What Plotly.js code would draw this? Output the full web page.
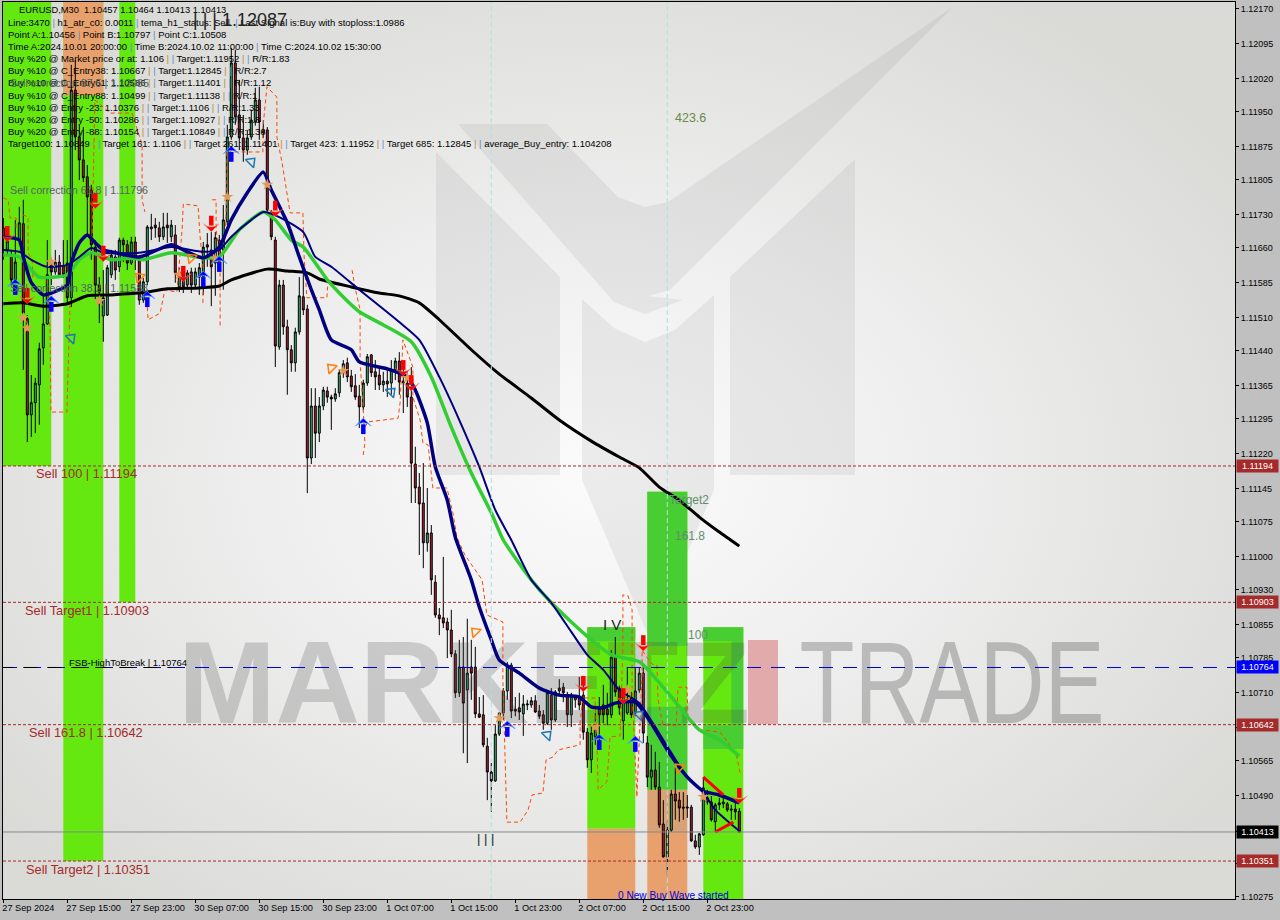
<!DOCTYPE html>
<html><head><meta charset="utf-8">
<script src="https://cdn.plot.ly/plotly-3.0.1.min.js"></script>
<style>
html,body{margin:0;padding:0;background:#c0c0c0;width:1280px;height:920px;overflow:hidden}
#bg{position:absolute;left:3px;top:2px;width:1232px;height:897px;background:radial-gradient(ellipse 760px 560px at 600px 470px,#fbfbfb 0%,#eeeeee 45%,#dadad7 100%)}
#chart{position:absolute;left:0;top:0;width:1280px;height:920px}
</style></head><body>
<div id="bg"></div><div id="chart"></div>
<script>
// all prices below are fifth-decimal points above 1.00000 (11702 = 1.11702)
const opens=[11702,11655,11640,11591,11676,11711,11508,11303,11329,11367,
11446,11497,11623,11608,11629,11621,11627,11553,11996,11896,
11847,11811,11783,11661,11580,11514,11516,11602,11640,11619,
11676,11666,11627,11672,11638,11548,11587,11700,11708,11702,
11683,11708,11683,11687,11576,11608,11580,11608,11580,11597,
11597,11666,11655,11627,11676,11655,11715,11896,12054,11943,
11894,11868,11896,11928,11975,11905,11911,11734,11676,11448,
11580,11491,11442,11414,11480,11555,11529,11211,11322,11264,
11322,11354,11341,11337,11350,11393,11414,11386,11365,11343,
11320,11371,11431,11395,11388,11367,11375,11371,11399,11418,
11371,11371,11341,11198,11149,11115,11030,11051,10946,10876,
10870,10861,10844,10793,10710,10765,10716,10765,10765,10665,
10663,10596,10541,10522,10622,10667,10714,10769,10675,10678,
10665,10684,10684,10693,10671,10663,10645,10705,10652,10714,
10722,10705,10663,10695,10701,10705,10626,10567,10616,10675,
10684,10675,10663,10788,10720,10650,10667,10701,10667,10716,
10752,10603,10530,10545,10509,10430,10360,10417,10494,10481,
10466,10464,10466,10394,10381,10407,10486,10477,10435,10471,
10473,10473,10462,10462,10457];
const highs=[11723,11693,11655,11719,11747,11762,11516,11388,11382,11457,
11559,11676,11629,11655,11644,11676,11676,12050,12060,11922,
11917,11836,11794,11676,11597,11612,11623,11655,11655,11681,
11681,11676,11683,11683,11644,11595,11708,11732,11723,11715,
11734,11734,11719,11708,11617,11617,11612,11617,11617,11627,
11672,11691,11693,11693,11687,11751,11922,12086,12082,12018,
11943,11911,11954,12001,12003,11932,11917,11740,11683,11591,
11591,11506,11452,11489,11597,11608,11538,11360,11360,11341,
11363,11363,11346,11360,11399,11420,11425,11399,11390,11367,
11378,11433,11433,11420,11405,11395,11399,11420,11425,11437,
11410,11395,11405,11235,11179,11200,11147,11068,10961,10891,
11000,10870,10887,10801,10823,10829,10868,10823,10808,10701,
10705,10614,10560,10641,10667,10720,10776,10774,10701,10710,
10705,10695,10701,10705,10684,10673,10714,10720,10716,10739,
10731,10712,10710,10705,10744,10744,10635,10641,10667,10701,
10727,10710,10801,10829,10725,10716,10765,10712,10765,10765,
10765,10618,10599,10584,10562,10481,10435,10503,10550,10498,
10498,10492,10471,10407,10411,10530,10503,10490,10475,10486,
10486,10477,10471,10477,10464];
const lows=[11634,11644,11580,11585,11666,11399,11245,11256,11264,11282,
11410,11495,11580,11602,11595,11595,11538,11533,11868,11804,
11800,11687,11634,11548,11499,11459,11514,11595,11591,11608,
11629,11612,11623,11612,11538,11542,11580,11676,11681,11672,
11676,11670,11672,11585,11565,11563,11570,11563,11574,11559,
11559,11619,11535,11557,11608,11570,11708,11890,11922,11868,
11843,11858,11890,11920,11890,11894,11734,11676,11405,11442,
11474,11346,11395,11395,11474,11516,11136,11198,11211,11245,
11313,11329,11271,11331,11341,11382,11373,11352,11335,11275,
11313,11365,11384,11356,11356,11352,11341,11346,11377,11346,
11307,11320,11115,11115,11004,10976,11011,10919,10870,10833,
10848,10784,10786,10699,10701,10581,10560,10695,10656,10656,
10594,10481,10456,10520,10618,10652,10695,10656,10660,10652,
10618,10673,10678,10667,10654,10631,10641,10631,10648,10705,
10690,10637,10637,10678,10673,10610,10550,10539,10599,10594,
10645,10641,10656,10701,10663,10610,10663,10656,10660,10710,
10603,10509,10503,10503,10422,10358,10321,10413,10439,10435,
10439,10443,10392,10377,10364,10405,10471,10435,10413,10460,
10464,10456,10439,10439,10413];
const closes=[11681,11674,11591,11629,11713,11520,11303,11329,11371,11444,
11497,11602,11608,11629,11602,11602,11553,11996,11896,11847,
11809,11768,11666,11580,11565,11553,11617,11644,11612,11676,
11666,11627,11672,11638,11548,11587,11704,11704,11702,11683,
11704,11702,11708,11606,11608,11576,11606,11580,11608,11617,
11661,11661,11619,11681,11619,11719,11896,12054,11939,11894,
11868,11894,11932,11975,11928,11911,11740,11683,11450,11580,
11491,11442,11414,11480,11557,11527,11211,11322,11264,11322,
11356,11341,11337,11348,11393,11412,11384,11363,11341,11320,
11371,11427,11393,11384,11367,11375,11369,11399,11418,11373,
11375,11341,11200,11147,11113,11030,11051,10951,10876,10868,
10859,10844,10793,10710,10765,10688,10752,10752,10665,10658,
10599,10541,10522,10622,10667,10714,10769,10671,10671,10669,
10686,10686,10693,10669,10660,10645,10710,10652,10712,10720,
10710,10663,10705,10701,10684,10626,10567,10624,10635,10663,
10663,10663,10786,10712,10678,10705,10693,10663,10714,10752,
10624,10530,10545,10509,10428,10360,10417,10494,10479,10464,
10464,10466,10394,10381,10409,10507,10477,10439,10471,10475,
10477,10460,10460,10456,10413];

const blackI=[0,5,10,16,21,27,36,41,49,54,57,66,71,76,79,87,94,99,104,109,117,124,132,139,147,154,159,164,169,174,179,184];
const blackP=[11540,11542,11535,11540,11557,11559,11565,11572,11574,11578,11591,11614,11610,11606,11593,11576,11563,11557,11542,11506,11442,11390,11339,11292,11247,11213,11190,11149,11121,11085,11053,11023];
const temaI=[0,4,5,7,10,12,16,17,19,21,23,25,28,34,42,45,50,54,57,61,65,67,71,74,77,79,82,87,89,96,101,103,106,108,111,113,117,119,122,124,129,134,139,144,147,150,153,158,162,166,171,175,179,184];
const temaP=[11683,11676,11640,11585,11559,11563,11580,11627,11670,11687,11670,11655,11649,11640,11666,11655,11638,11661,11719,11777,11821,11783,11713,11640,11570,11527,11463,11442,11416,11401,11384,11356,11286,11192,11121,11042,10951,10893,10823,10780,10752,10720,10705,10701,10680,10678,10688,10690,10645,10588,10530,10500,10492,10475];
const thinI=[0,4,7,11,16,19,22,25,34,42,50,54,57,62,65,69,75,78,82,89,99,104,109,114,119,123,127,132,137,142,146,150,154,159,163,167,171,175,178,184];
const thinP=[11655,11651,11634,11619,11623,11640,11659,11649,11649,11661,11651,11655,11683,11719,11736,11725,11693,11640,11619,11570,11501,11463,11384,11292,11192,11100,11036,10951,10902,10840,10791,10759,10716,10688,10637,10582,10530,10498,10460,10415];
const greenI=[0,4,7,9,16,19,22,27,32,35,42,50,54,59,65,68,72,75,81,84,89,95,102,107,112,117,122,125,132,137,142,147,152,159,167,174,179,184];
const greenP=[11644,11640,11612,11597,11602,11634,11649,11634,11638,11634,11649,11638,11640,11698,11736,11719,11676,11661,11591,11563,11523,11495,11459,11384,11277,11179,11094,11036,10951,10902,10861,10823,10791,10776,10701,10631,10610,10575];
const stepI=[0,1.2,1.7,3.2,3.2,null,4.9,6.2,6.2,7.2,7.4,10.9,11.7,11.9,15.9,16.2,16.7,16.7,null,22.2,22.4,22.9,26.7,32.2,34.7,34.7,35.4,null,35.9,36.2,39.2,40,40.4,43.4,44.7,45,48.7,49.2,50,49.9,null,52.2,53.2,53.2,54.2,54.2,null,55.4,55.9,55.9,57.2,64.9,64.9,65.9,68.4,68.4,69.7,71.7,74.9,75.2,75.9,80.9,81.2,null,87.2,87.9,89.2,89.2,89.9,90.4,89.9,null,90.4,91.2,98.7,99.2,99.9,102.4,102.4,104.2,104.9,106.2,107.4,110.9,112.4,113.4,115.4,119.7,120.9,124.9,124.9,125.9,129.2,131.2,132.2,134.9,135.7,137.4,138.7,141.7,144.2,144.2,144.9,147.9,148.4,148.7,150.9,151.7,154.2,154.9,154.9,156.2,157.2,157.2,158.4,159.7,159.7,160.9,162.2,163.4,163.7,164.9,168.2,168.7,170.9,171.2,174.4,179.2,181.2,183.4,184.2];
const stepP=[11766,11762,11723,11723,11698,null,11730,11725,11649,11634,11597,11597,11484,11309,11309,11393,11520,11544,null,11676,11783,11975,11947,11947,11879,11762,11736,null,11548,11506,11520,11559,11570,11565,11698,11753,11749,11683,11612,11542,null,11762,11762,11698,11640,11491,null,11676,11777,11868,11864,11864,11915,12003,11981,11896,11841,11734,11734,11640,11553,11553,11591,null,11612,11576,11527,11414,11328,11243,11213,null,11277,11288,11296,11329,11463,11405,11341,11292,11243,11239,11147,11147,11094,11042,11004,10951,10876,10861,10737,10434,10434,10460,10492,10496,10567,10573,10588,10594,10599,10648,10699,10699,10616,10503,10520,10616,10618,10808,10919,10917,10887,10716,10488,10752,10801,10786,10771,10769,10695,10641,10641,10722,10722,10652,10631,10626,10603,10573,10539];

// arrow prices are read at the arrow tips
const sellArrowI=[1,6,23,25,45,52,68,100,102,145,155,160,184];
const sellArrowP=[11672,11540,11743,11630,11587,11694,11726,11386,11354,10712,10686,10799,10473];
const buyArrowI=[3,12,36,50,54,57,90,126,149,158];
const buyArrowP=[11593,11557,11567,11610,11642,11877,11296,10650,10622,10618];
const hollowBlueI=[17,62,97,136,159];
const hollowBlueP=[11467,11843,11352,10620,10663];
const hollowRedI=[34,47,82,118,169];
const hollowRedP=[11597,11638,11403,10840,10550];
const starI=[12,5,6,24,44,53,66,56,85,101,124,148,156,175];
const starP=[11629,11510,11488,11546,11602,11636,11794,11768,11397,11382,10656,10637,10716,10488];
const wedgeI=[175,180,null,178,182.5];
const wedgeP=[10530,10492,null,10413,10434];

const levelPrices=[1.11194,1.10903,1.10642,1.10351];
const fsbPrice=1.10764, closePrice=1.10413;

// zones: [firstBar,lastBar,topPoints,bottomPoints,colour]
const GREEN='#64e80f',GREEN2='#48cd32',ORANGE='#e8a06c',ORANGE2='#d8a274';
const zones=[
 [-1,12,12184,11194,GREEN],[15,25,12184,10351,GREEN],[15,25,12184,11985,ORANGE],[29,33,12184,10903,GREEN],
 [146,158,10850,10420,GREEN],[146,158,10850,10820,GREEN2],[146,158,10420,10270,ORANGE],
 [161,171,11139,10503,GREEN],[161,171,11139,10810,GREEN2],[161,171,10680,10503,GREEN2],[161,171,10503,10415,ORANGE2],[161,171,10415,10270,ORANGE],
 [175,185,10850,10270,GREEN],[175,185,10850,10820,GREEN2],[182,185,10820,10640,GREEN2],[175,185,10640,10590,GREEN2]];

const tickBars=[0,16,32,48,64,80,96,112,128,144,160,176];
const tickDates=['27 Sep 2024','27 Sep 15:00','27 Sep 23:00','30 Sep 07:00','30 Sep 15:00','30 Sep 23:00','1 Oct 07:00','1 Oct 15:00','1 Oct 23:00','2 Oct 07:00','2 Oct 15:00','2 Oct 23:00'];
const priceTicks=['1.12170','1.12095','1.12020','1.11950','1.11875','1.11805','1.11730','1.11660','1.11585','1.11510','1.11440','1.11365','1.11295','1.11220','1.11145','1.11075','1.11000','1.10930','1.10855','1.10785','1.10710','1.10635','1.10565','1.10490','1.10415','1.10345','1.10275'];

const infoLines=[
 'Line:3470 | h1_atr_c0: 0.0011 | tema_h1_status: Sell. | Last Signal is:Buy with stoploss:1.0986',
 'Point A:1.10456 | Point B:1.10797 | Point C:1.10508',
 'Time A:2024.10.01 20:00:00 | Time B:2024.10.02 11:00:00 | Time C:2024.10.02 15:30:00',
 'Buy %20 @ Market price or at: 1.106 || Target:1.11952 || R/R:1.83',
 'Buy %10 @ C_Entry38: 1.10667 || Target:1.12845 || R/R:2.7',
 'Buy %10 @ C_Entry61: 1.10586 || Target:1.11401 || R/R:1.12',
 'Buy %10 @ C_Entry88: 1.10499 || Target:1.11138 || R/R:1',
 'Buy %10 @ Entry -23: 1.10376 || Target:1.1106 || R/R:1.33',
 'Buy %20 @ Entry -50: 1.10286 || Target:1.10927 || R/R:1.8',
 'Buy %20 @ Entry -88: 1.10154 || Target:1.10849 || R/R:1.36',
 'Target100: 1.10849 || Target 161: 1.1106 || Target 261: 1.11401 || Target 423: 1.11952 || Target 685: 1.12845 || average_Buy_entry: 1.104208'];

// ---- helpers
const P=v=>v==null?null:1+v/100000, Ps=a=>a.map(P);
const bars=opens.map((_,i)=>i);
const L=3,T=2,W=1232,H=897,FONT='"Liberation Sans",Arial,sans-serif';
const px=x=>(x-L)/W, py=y=>1-(y-T)/H;
function note(x,y,text,color,size,extra){return Object.assign({xref:'paper',yref:'paper',x:px(x),y:py(y),text,showarrow:false,xanchor:'left',yanchor:'middle',borderpad:0,font:{family:FONT,size,color}},extra||{});}
function poly(pts,fill){return {type:'path',layer:'below',xref:'paper',yref:'paper',line:{width:0},fillcolor:fill,
  path:pts.map((p,i)=>(i?'L':'M')+px(p[0]).toFixed(5)+','+py(p[1]).toFixed(5)).join(' ')+' Z'};}
const sep=t=>t.replace(/ \|\| /g,' <span style="color:#c08a3e">|</span>&nbsp;<span style="color:#5b8fd0">|</span> ').replace(/ \| /g,' <span style="color:#5b8fd0">|</span> ');
const SMOOTH={shape:'spline',smoothing:0.6};
const markerTrace=(x,y,marker)=>({type:'scatter',mode:'markers',x,y:Ps(y),marker,hoverinfo:'skip'});

// ---- traces
const traces=[
 {type:'scatter',mode:'text',x:[115.2],y:[P(10709)],text:['MARKETZ'],textposition:'middle center',textfont:{family:FONT,weight:'bold',size:117,color:'rgba(70,70,70,0.22)'},hoverinfo:'skip'},
 {type:'scatter',mode:'text',x:[237.2],y:[P(10709)],text:['TRADE'],textposition:'middle center',textfont:{family:FONT,size:117,color:'rgba(70,70,70,0.3)'},hoverinfo:'skip'},
 {type:'candlestick',x:bars,open:Ps(opens),high:Ps(highs),low:Ps(lows),close:Ps(closes),
  increasing:{line:{color:'#000',width:1},fillcolor:'#3cb371'},decreasing:{line:{color:'#000',width:1},fillcolor:'#b22234'},whiskerwidth:0,hoverinfo:'skip'},
 {type:'scatter',mode:'lines',x:stepI,y:Ps(stepP),connectgaps:false,line:{color:'#ff4500',width:1,dash:'4px,3px'},hoverinfo:'skip'},
 {type:'scatter',mode:'lines',x:blackI,y:Ps(blackP),line:Object.assign({color:'#000',width:3},SMOOTH),hoverinfo:'skip'},
 {type:'scatter',mode:'lines',x:greenI,y:Ps(greenP),line:Object.assign({color:'#32cd32',width:3.5},SMOOTH),hoverinfo:'skip'},
 {type:'scatter',mode:'lines',x:thinI,y:Ps(thinP),line:Object.assign({color:'#000080',width:2},SMOOTH),hoverinfo:'skip'},
 {type:'scatter',mode:'lines',x:temaI,y:Ps(temaP),line:Object.assign({color:'#000080',width:3.5},SMOOTH),hoverinfo:'skip'},
 {type:'scatter',mode:'lines',x:wedgeI,y:Ps(wedgeP),connectgaps:false,line:{color:'#ff0000',width:3},hoverinfo:'skip'},
 markerTrace(starI,starP,{symbol:'star',size:9,color:'#e09a58'}),
 markerTrace(hollowBlueI,hollowBlueP,{symbol:'triangle-up-open',size:10,angle:45,line:{color:'#4a8fe0',width:1.5}}),
 markerTrace(hollowRedI,hollowRedP,{symbol:'triangle-up-open',size:10,angle:-45,line:{color:'#f0442a',width:1.5}}),
 markerTrace(sellArrowI,sellArrowP,{symbol:'line-ns',size:7,angle:180,standoff:11,line:{color:'#ff0000',width:4.5}}),
 markerTrace(sellArrowI,sellArrowP,{symbol:'arrow-wide',size:11,angle:180,color:'#ff0000',line:{color:'#ff6a4a',width:0.5}}),
 markerTrace(buyArrowI,buyArrowP,{symbol:'line-ns',size:7,angle:0,standoff:11,line:{color:'#0000ff',width:4.5}}),
 markerTrace(buyArrowI,buyArrowP,{symbol:'arrow-wide',size:11,angle:0,color:'#0000ff',line:{color:'#4aa0ff',width:0.8}})
];

// ---- shapes
const shapes=zones.map(z=>({type:'rect',layer:'below',xref:'x',yref:'y',x0:z[0],x1:z[1],y0:P(z[2]),y1:P(z[3]),fillcolor:z[4],line:{width:0}}));
const WM='rgba(90,90,90,0.09)';
shapes.push(poly([[436,152],[560,277],[560,475],[436,475]],WM));
shapes.push(poly([[855,159],[730,277],[730,475],[855,475]],WM));
shapes.push(poly([[458,124],[547,124],[618,197],[645,207],[668,202],[953,7],[817,143],[737,223],[670,290],[648,296],[683,300],[645,314],[614,302]],WM));
shapes.push(poly([[582,299],[614,328],[645,342],[675,330],[714,295],[714,490],[650,640],[582,480]],WM));
shapes.push({type:'rect',layer:'below',xref:'paper',yref:'paper',x0:px(748),x1:px(778),y0:py(724),y1:py(640),fillcolor:'#e2aaaa',line:{width:0}});
levelPrices.forEach(p=>shapes.push({type:'line',layer:'above',xref:'paper',yref:'y',x0:0,x1:1,y0:p,y1:p,line:{color:'#a52a2a',width:1,dash:'3px,2px'}}));
shapes.push({type:'line',layer:'above',xref:'paper',yref:'y',x0:0,x1:1,y0:fsbPrice,y1:fsbPrice,line:{color:'#0000cd',width:1,dash:'14px,10px'}});
shapes.push({type:'line',layer:'above',xref:'x',yref:'y',x0:-1,x1:42,y0:fsbPrice,y1:fsbPrice,line:{color:'#000',width:1,dash:'14px,10px'}});
shapes.push({type:'line',layer:'above',xref:'paper',yref:'y',x0:0,x1:1,y0:closePrice,y1:closePrice,line:{color:'#808890',width:1}});
[122,166].forEach(b=>shapes.push({type:'line',layer:'above',xref:'x',yref:'paper',x0:b,x1:b,y0:0,y1:1,line:{color:'#b4dfe4',width:1,dash:'5px,3px'}}));

// ---- text
const ann=[];
ann.push(note(18,10,'EURUSD,M30  1.10457 1.10464 1.10413 1.10413','#000',9.3));
infoLines.forEach((t,i)=>ann.push(note(7,23+i*12,sep(t),'#000',9.5)));
ann.push(note(9,83,'Sell correction 87.5 | 1.12085','#4f6660',10.7));
ann.push(note(9,190,'Sell correction 61.8 | 1.11796','#4f6660',10.7));
ann.push(note(9,288,'Sell correction 38.2 | 1.11588','#4f6660',10.7));
ann.push(note(35,474,'Sell 100 | 1.11194','#a52a2a',12.8));
ann.push(note(24,610,'Sell Target1 | 1.10903','#a52a2a',12.8));
ann.push(note(68,662,'FSB-HighToBreak | 1.10764','#000',9.5));
ann.push(note(28,732,'Sell 161.8 | 1.10642','#a52a2a',12.8));
ann.push(note(25,869,'Sell Target2 | 1.10351','#a52a2a',12.8));
ann.push(note(192,20,'| | | 1.12087','#222',18));
ann.push(note(476,838,'| | |','#222',13));
ann.push(note(602,624,'I V','#222',15));
ann.push(note(674,118,'423.6','#6b8a4a',12.5));
ann.push(note(668,500,'Target2','#5f8f6a',12));
ann.push(note(674,536,'161.8','#5f8f6a',12));
ann.push(note(687,635,'100','#5f8f6a',12));
ann.push(note(617,895,'0 New Buy Wave started','#0000e0',10.1));
[[1.11194,466,'#a52a2a'],[1.10903,602,'#a52a2a'],[1.10764,667,'#0000ff'],[1.10642,724,'#a52a2a'],[1.10413,831.5,'#000'],[1.10351,861,'#a52a2a']].forEach(b=>{
  ann.push({xref:'paper',yref:'y',x:px(1236),y:b[0],xanchor:'left',yanchor:'middle',showarrow:false,text:b[0].toFixed(5),bgcolor:b[2],borderpad:1,width:39,height:10,align:'center',font:{family:FONT,size:9,color:'#fff'}});
});

const layout={width:1280,height:920,margin:{l:L,r:45,t:T,b:21,pad:0},paper_bgcolor:'rgba(0,0,0,0)',plot_bgcolor:'rgba(0,0,0,0)',showlegend:false,
 hovermode:false,dragmode:false,
 xaxis:{range:[-0.075,307.925],rangeslider:{visible:false},showgrid:false,zeroline:false,tickmode:'array',tickvals:tickBars,ticktext:tickDates,tickangle:0,ticks:'outside',ticklen:3,tickcolor:'#000',ticklabelposition:'outside right',ticklabelshift:-2,tickfont:{family:FONT,size:9.2,color:'#000'},showline:true,linecolor:'#000',linewidth:1,mirror:true},
 yaxis:{range:[1.1027,1.12184],side:'right',showgrid:false,zeroline:false,tickmode:'array',tickvals:priceTicks.map(Number),ticktext:priceTicks,ticks:'outside',ticklen:3,tickcolor:'#000',tickfont:{family:FONT,size:9,color:'#000'},showline:true,linecolor:'#000',linewidth:1,mirror:true},
 shapes,annotations:ann};
Plotly.newPlot('chart',traces,layout,{displayModeBar:false,staticPlot:true}).then(()=>{
  // the reference's TRADE word is condensed: fit it to its width without changing the text
  document.querySelectorAll('#chart .textpoint text').forEach(t=>{
    if(t.textContent==='TRADE'){t.setAttribute('textLength','305');t.setAttribute('lengthAdjust','spacingAndGlyphs');}
  });
});
</script></body></html>
